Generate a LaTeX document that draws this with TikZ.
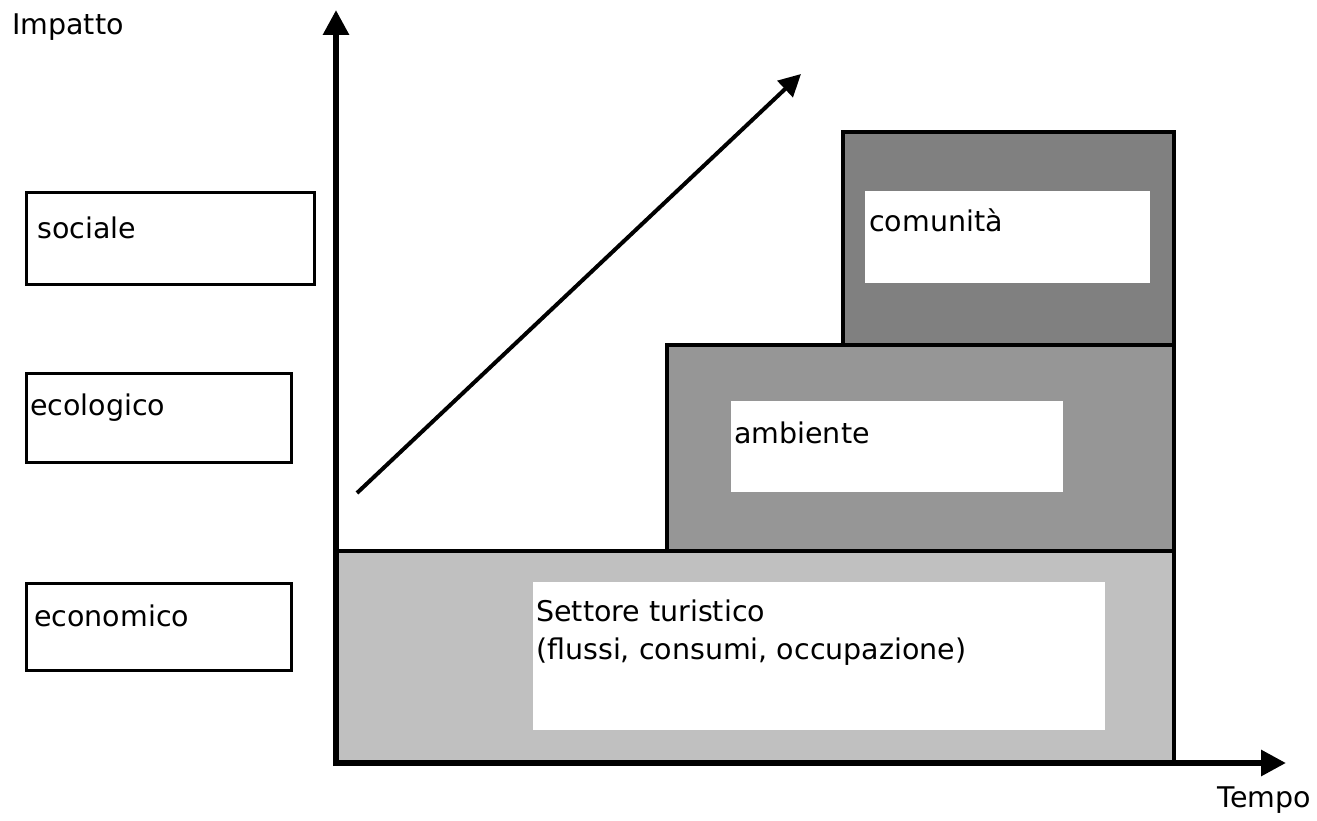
\documentclass[tikz,border=0pt]{standalone}
\usepackage{fontspec}
\setmainfont{DejaVu Sans}
\usetikzlibrary{arrows.meta}
\definecolor{gLight}{HTML}{C0C0C0}
\definecolor{gMid}{HTML}{969696}
\definecolor{gDark}{HTML}{808080}
\begin{document}
\begin{tikzpicture}[x=1pt,y=-1pt,
  lbl/.style={anchor=west,inner sep=0pt,font=\fontsize{28.5}{38}\selectfont},
  sidebox/.style={draw=black,line width=3pt,fill=white,inner sep=0pt},
  block/.style={draw=black,line width=3.5pt,inner sep=0pt},
  inbox/.style={fill=white,inner sep=0pt},
  axis/.style={line width=6pt,-{Triangle[length=25pt,width=25pt]}},
  trend/.style={line width=4pt,-{Triangle[length=22pt,width=22pt]}}]
\useasboundingbox (0,0) rectangle (1317,821);
% left boxes
\node[sidebox,minimum width=288pt,minimum height=91pt] (soc) at (170,238.5) {};
\node[sidebox,minimum width=265pt,minimum height=89pt] (eco) at (158.5,417.5) {};
\node[sidebox,minimum width=265pt,minimum height=87pt] (econ) at (158.5,626.5) {};
\node[lbl] (tsoc) at (37,228) {sociale};
\node[lbl] (teco) at (30,408) {ecologico};
\node[lbl] (tecon) at (34,616) {economico};
\node[lbl] (imp) at (12,27) {Impatto};
% blocks
\node[block,fill=gDark,minimum width=331pt,minimum height=213pt] (com) at (1008.5,238.5) {};
\node[block,fill=gMid,minimum width=507pt,minimum height=206pt] (amb) at (920.5,448) {};
\node[block,fill=gLight,minimum width=838pt,minimum height=212pt] (set) at (755,657) {};
\node[inbox,minimum width=285pt,minimum height=92pt] (comin) at (1007.5,237) {};
\node[inbox,minimum width=332pt,minimum height=91pt] (ambin) at (897,446.5) {};
\node[inbox,minimum width=572pt,minimum height=148pt] (setin) at (819,656) {};
\node[lbl] (tcom) at (869,220) {comunità};
\node[lbl] (tamb) at (734,433) {ambiente};
\node[lbl,align=left,anchor=north west] (tset) at (536,600) {Settore turistico\\(flussi, consumi, occupazione)};
% axes
\coordinate (ytop) at (336,10);
\coordinate (xend) at (1286,763);
\draw[axis] (336,766) -- (ytop);
\draw[axis] (333,763) -- (xend);
\node[lbl,anchor=east] (tempo) at (1311,800) {Tempo};
% trend arrow
\coordinate (ts) at (357,493);
\coordinate (te) at (801,74);
\draw[trend] (ts) -- (te);
\end{tikzpicture}
\end{document}
